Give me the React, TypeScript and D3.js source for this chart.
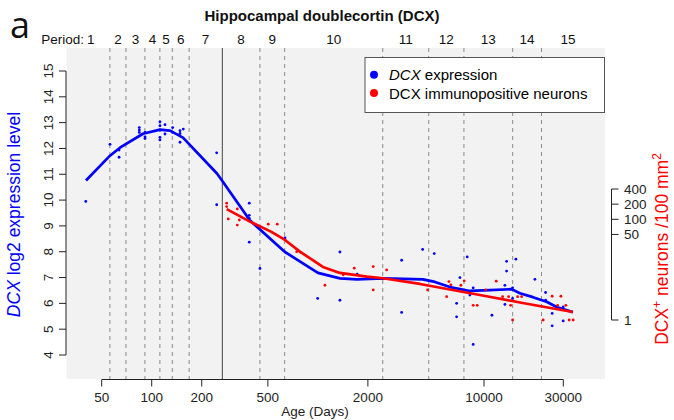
import React from "react";
import * as d3 from "d3";

// ---- data (ages in days post-conception) ----
const periodBoundaries = [56, 70, 91, 112, 133, 168, 448, 631, 2457, 4649, 7571, 14876, 22181];
const birthAge = 266;
const periodLabels = ["1","2","3","4","5","6","7","8","9","10","11","12","13","14","15"];
const periodLabelAges = [43, 62.6, 79.8, 101, 122, 149.5, 211, 345, 532, 1245, 3380, 5933, 10613, 18165, 32000];

const xTicks = [50, 100, 200, 500, 2000, 10000, 30000];
const leftTicks = [4, 5, 6, 7, 8, 9, 10, 11, 12, 13, 14, 15];
const rightTicks = [1, 50, 100, 200, 400];

// DCX expression (log2) points: [age, value]
const exprPoints: [number, number][] = [
  [40.1, 9.95], [56.1, 12.16], [63.6, 11.94], [63.6, 11.66], [84.2, 12.81], [84.2, 12.71], [84.2, 12.62],
  [91.1, 12.62], [91.1, 12.45], [91.1, 12.39], [112.1, 13.03], [112.1, 12.88], [112.1, 12.71], [112.1, 12.43],
  [112.1, 12.33], [120.2, 12.92], [120.2, 12.56], [133.7, 12.81], [133.7, 12.62], [148, 12.69], [148, 12.58],
  [148, 12.24], [154.9, 12.75], [246, 11.83], [246, 9.82], [386.5, 9.88], [386.5, 9.41], [386.5, 9.29],
  [386.5, 8.37], [448.2, 7.35], [633.8, 8.54], [633.8, 8.47], [996.8, 6.19], [1357, 7.99], [1357, 6.12],
  [1725, 7.13], [3193, 7.67], [3193, 5.65], [4270, 8.09], [5015, 7.93], [6839, 6.0], [6839, 5.48],
  [7158, 7.0], [7920, 7.8], [8222, 6.32], [8607, 6.6], [8607, 4.41], [11155, 5.54], [13356, 6.7],
  [13356, 5.96], [13673, 7.63], [13673, 7.25], [14856, 6.6], [14856, 6.19], [15552, 7.71], [20242, 6.93],
  [23473, 6.42], [23473, 6.12], [25722, 5.61], [25722, 5.13], [29950, 5.86], [29950, 5.32],
];

// DCX expression fitted curve
const exprFit: [number, number][] = [
  [40.2, 10.76], [56.1, 11.72], [64.4, 12.03], [88.6, 12.57], [112.1, 12.73], [128.8, 12.69], [154.2, 12.42],
  [247, 11.03], [264.8, 10.76], [390.3, 9.21], [633.8, 7.99], [1001, 7.18], [1357, 6.97], [1718, 6.93],
  [2463, 6.97], [4288, 6.93], [5063, 6.83], [6233, 6.63], [8222, 6.48], [10846, 6.51], [14655, 6.55],
  [16435, 6.39], [19690, 6.24], [23800, 6.06], [27340, 5.86], [34250, 5.66],
];

// DCX immunopositive neurons per 100 mm^2: [age, count]
const neuronPoints: [number, number][] = [
  [282.6, 209], [282.6, 179], [288.9, 102], [327.3, 161], [327.3, 77], [336.5, 97], [502.8, 80], [569.6, 80],
  [745.5, 22.8], [791.3, 21.8], [1103, 4.9], [1421, 7.9], [1655, 10.7], [2154, 11.5], [2154, 3.95],
  [2593, 9.9], [4576, 3.95], [5954, 2.9], [6148, 5.8], [6320, 5.0], [7258, 4.9], [7597, 6.0], [8607, 1.96],
  [9096, 1.96], [10221, 3.95], [11841, 5.9], [12936, 2.9], [14057, 2.9], [14454, 1.96], [14856, 1],
  [15922, 2.9], [16831, 2.9], [22700, 1], [25722, 2.96], [27720, 1.96], [29010, 2.96], [31090, 1.96],
  [32548, 1], [34400, 1],
];

const neuronFit: [number, number][] = [
  [282.6, 159], [390.3, 90], [522, 57], [633.8, 38.9], [780, 22.8], [1073, 11.3], [1357, 8.6], [1974, 7.26],
  [2463, 6.75], [4114, 5.2], [9445, 3.14], [16435, 2.23], [34250, 1.44],
];

const FONT = "'Liberation Sans', Arial, Helvetica, sans-serif";

export default function App() {
  const W = 674, H = 420;
  const plotL = 66.5, plotR = 605, plotT = 48, plotB = 379;
  const x = d3.scaleLog().domain([50, 30000]).range([101.7, 563.3]);
  const yL = d3.scaleLinear().domain([4, 15]).range([355, 71]);
  const yR = d3.scaleLog().domain([1, 400]).range([320, 189]);

  const exprLine = d3.line<[number, number]>().x((d) => x(d[0])).y((d) => yL(d[1]));
  const neuronLine = d3.line<[number, number]>().x((d) => x(d[0])).y((d) => yR(d[1]));

  const tick = 7;
  return (
    <svg width={W} height={H} style={{ position: "absolute", left: 0, top: 0 }} fontFamily={FONT}>
      <rect x={0} y={0} width={W} height={H} fill="#fff" />
      {/* plot background */}
      <rect x={plotL} y={plotT} width={plotR - plotL} height={plotB - plotT} fill="#f2f2f2" />
      {/* period boundaries */}
      {periodBoundaries.map((a, i) => (
        <line key={i} x1={x(a)} x2={x(a)} y1={plotT} y2={plotB} stroke="#8a8a8a" strokeWidth={1} strokeDasharray="4,4" />
      ))}
      <line x1={x(birthAge)} x2={x(birthAge)} y1={plotT} y2={plotB} stroke="#444" strokeWidth={1} />

      {/* legend */}
      <rect x={365} y={57.5} width={239.5} height={55} fill="#fff" stroke="#555" strokeWidth={1} />
      <circle cx={374} cy={74.7} r={4} fill="#0000ff" />
      <circle cx={374} cy={93} r={4} fill="#ff0000" />
      <text x={389} y={80} fontSize={15} fill="#000">
        <tspan fontStyle="italic">DCX</tspan> expression
      </text>
      <text x={389} y={98.5} fontSize={15} fill="#000">DCX immunopositive neurons</text>

      {/* data */}
      {exprPoints.map((d, i) => (
        <circle key={"e" + i} cx={x(d[0])} cy={yL(d[1])} r={1.4} fill="#0000ff" />
      ))}
      <path d={exprLine(exprFit) || ""} fill="none" stroke="#0000ff" strokeWidth={2.7} strokeLinejoin="round" />
      {neuronPoints.map((d, i) => (
        <circle key={"n" + i} cx={x(d[0])} cy={yR(d[1])} r={1.4} fill="#ff0000" />
      ))}
      <path d={neuronLine(neuronFit) || ""} fill="none" stroke="#ff0000" strokeWidth={2.7} strokeLinejoin="round" />

      {/* bottom axis */}
      <line x1={x(xTicks[0])} x2={x(xTicks[xTicks.length - 1])} y1={379.5} y2={379.5} stroke="#222" />
      {xTicks.map((t) => (
        <g key={t}>
          <line x1={x(t)} x2={x(t)} y1={379.5} y2={379.5 + tick} stroke="#222" />
          <text x={x(t)} y={401.7} fontSize={13.5} textAnchor="middle" fill="#222">{t}</text>
        </g>
      ))}
      <text x={315} y={416} fontSize={13.5} textAnchor="middle" fill="#222">Age (Days)</text>

      {/* left axis */}
      <line x1={66} x2={66} y1={yL(4)} y2={yL(15)} stroke="#222" />
      {leftTicks.map((t) => (
        <g key={t}>
          <line x1={66} x2={66 - tick} y1={yL(t)} y2={yL(t)} stroke="#222" />
          <text transform={`translate(53.3,${yL(t)}) rotate(-90)`} fontSize={13.5} textAnchor="middle" fill="#222">{t}</text>
        </g>
      ))}
      <text transform="translate(19.5,214.5) rotate(-90)" fontSize={17.5} textAnchor="middle" fill="#0000ff">
        <tspan fontStyle="italic">DCX</tspan> log2 expression level
      </text>

      {/* right axis */}
      <line x1={611.5} x2={611.5} y1={yR(400)} y2={yR(1)} stroke="#222" />
      {rightTicks.map((t) => (
        <g key={t}>
          <line x1={611.5} x2={611.5 + tick} y1={yR(t)} y2={yR(t)} stroke="#222" />
          <text x={624} y={yR(t) + 4.8} fontSize={13.5} fill="#222">{t}</text>
        </g>
      ))}
      <text transform="translate(668,249) rotate(-90)" fontSize={17.5} textAnchor="middle" fill="#ff0000">
        DCX<tspan dy={-7} fontSize={12}>+</tspan>
        <tspan dy={7}> neurons /100 mm</tspan>
        <tspan dy={-7} fontSize={12}>2</tspan>
      </text>

      {/* top labels */}
      <text x={10} y={38} fontSize={36} fontFamily="'Open Sans', sans-serif" fill="#111">a</text>
      <text x={322} y={21} fontSize={15} fontWeight="bold" textAnchor="middle" fill="#111">Hippocampal doublecortin (DCX)</text>
      <text x={84} y={43.5} fontSize={13.5} textAnchor="end" fill="#111">Period:</text>
      {periodLabels.map((p, i) => (
        <text key={p} x={x(periodLabelAges[i])} y={43.5} fontSize={13.5} textAnchor="middle" fill="#111">{p}</text>
      ))}
    </svg>
  );
}
